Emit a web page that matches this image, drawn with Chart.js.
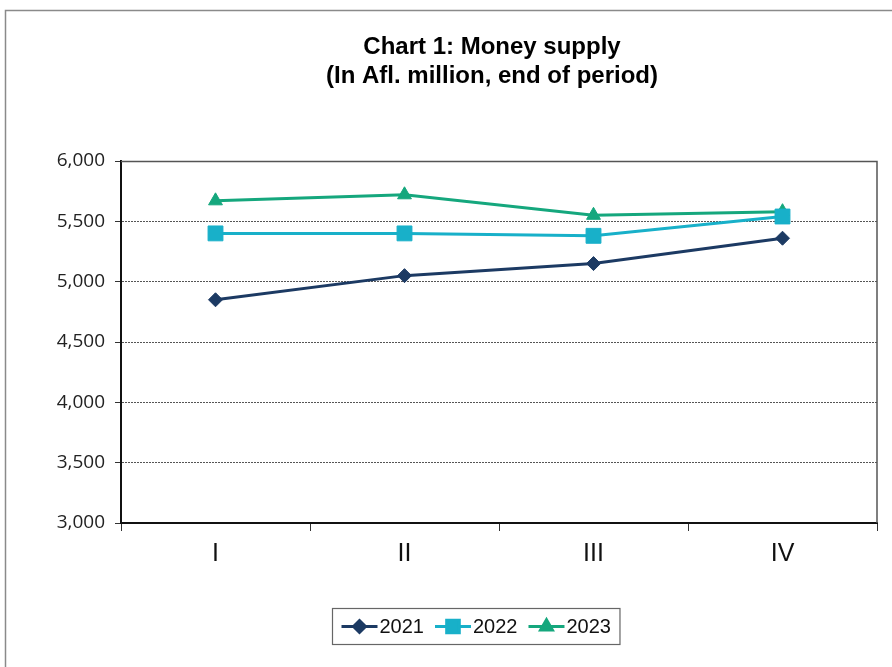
<!DOCTYPE html>
<html>
<head>
<meta charset="utf-8">
<script src="https://cdn.jsdelivr.net/npm/chart.js@4.4.1/dist/chart.umd.min.js"></script>
<style>
  body { margin:0; background:#fff; }
  canvas { display:block; }
</style>
</head>
<body>
<canvas id="moneyChart" width="892" height="667"></canvas>
<script>
// quarters
const quarters = ["I", "II", "III", "IV"]

// money supply, Afl. million
const money2021 = [4850, 5050, 5150, 5360]
const money2022 = [5400, 5400, 5380, 5540]
const money2023 = [5670, 5720, 5550, 5580]

const yMin = 3000
const yMax = 6000
const yStep = 500

const titleLines = ["Chart 1: Money supply", "(In Afl. million, end of period)"]

// outer frame, title and plot box
const framePlugin = {
    id: "frame",
    beforeDraw(chart){
        const ctx = chart.ctx
        ctx.save()
        ctx.strokeStyle = "#8a8a8a"
        ctx.lineWidth = 1.5
        ctx.strokeRect(5.5, 10.5, 1000, 1000)
        // title, centred a bit right like the original
        ctx.fillStyle = "#000"
        ctx.font = "bold 24px 'Liberation Sans Narrow', 'Arial Narrow', Arial"
        ctx.textAlign = "center"
        ctx.textBaseline = "middle"
        titleLines.forEach((t, i) => ctx.fillText(t, 492, 47 + i * 29))
        ctx.restore()
    },
    afterDatasetsDraw(chart){
        const a = chart.chartArea
        const ctx = chart.ctx
        ctx.save()
        ctx.strokeStyle = "#555"
        ctx.lineWidth = 1.5
        ctx.beginPath()
        ctx.moveTo(a.left, a.top + 0.5)
        ctx.lineTo(a.right, a.top + 0.5)
        ctx.lineTo(a.right, a.bottom)
        ctx.stroke()
        ctx.restore()
    }
}

// legend drawn as line + marker like the original
const legendPlugin = {
    id: "lineLegend",
    afterDraw(chart){
        const ctx = chart.ctx
        const sets = chart.data.datasets
        ctx.save()
        ctx.font = "20px Arial, 'Liberation Sans'"
        ctx.textBaseline = "middle"
        const lineLen = 36, gap = 2, itemGap = 11
        let total = 0
        sets.forEach(ds => { total += lineLen + gap + ctx.measureText(ds.label).width })
        total += itemGap * (sets.length - 1)
        const boxW = total + 18, boxH = 36
        const boxX = Math.round(475.5 - boxW / 2) + 0.5
        const boxY = 608.5
        ctx.fillStyle = "#fff"
        ctx.fillRect(boxX, boxY, boxW, boxH)
        ctx.strokeStyle = "#666"
        ctx.lineWidth = 1.2
        ctx.strokeRect(boxX, boxY, boxW, boxH)
        let x = boxX + 9
        const y = boxY + boxH / 2
        sets.forEach(ds => {
            ctx.strokeStyle = ds.borderColor
            ctx.fillStyle = ds.borderColor
            ctx.lineWidth = 3
            ctx.beginPath()
            ctx.moveTo(x, y)
            ctx.lineTo(x + lineLen, y)
            ctx.stroke()
            Chart.helpers.drawPoint(ctx, { pointStyle: ds.pointStyle, radius: ds.pointRadius * 0.85, rotation: 0, borderWidth: 1 }, x + lineLen / 2, y)
            ctx.fillStyle = "#111"
            ctx.fillText(ds.label, x + lineLen + gap, y + 1)
            x += lineLen + gap + ctx.measureText(ds.label).width + itemGap
        })
        ctx.restore()
    }
}

new Chart(document.getElementById("moneyChart"), {
    type: "line",
    data: {
        labels: quarters,
        datasets: [
            { label: "2021", data: money2021, borderColor: "#1c3a63", backgroundColor: "#1c3a63", borderWidth: 3, pointStyle: "rectRot", pointRadius: 7, pointBorderWidth: 1 },
            { label: "2022", data: money2022, borderColor: "#18b0c9", backgroundColor: "#18b0c9", borderWidth: 3, pointStyle: "rect", pointRadius: 10.5, pointBorderWidth: 1 },
            { label: "2023", data: money2023, borderColor: "#15a77d", backgroundColor: "#15a77d", borderWidth: 3, pointStyle: "triangle", pointRadius: 8, pointBorderWidth: 1 }
        ]
    },
    options: {
        responsive: false,
        animation: false,
        layout: { padding: { left: 5, right: 15, top: 161, bottom: 0 } },
        plugins: {
            legend: { display: false },
            tooltip: { enabled: false },
            title: { display: false }
        },
        scales: {
            x: {
                offset: true,
                grid: { display: true, drawOnChartArea: false, drawTicks: true, tickLength: 8, color: "#333", offset: true },
                border: { color: "#111", width: 2 },
                ticks: { color: "#111", font: { family: "Arial, 'Liberation Sans'", size: 25 }, padding: 8 },
                afterFit(s){ s.height = 144 }
            },
            y: {
                min: yMin,
                max: yMax,
                grid: { color: "#555", lineWidth: 1, tickLength: 6, tickColor: "#333" },
                border: { color: "#111", width: 2, dash: [2, 1] },
                ticks: {
                    stepSize: yStep,
                    color: "#222",
                    padding: 10,
                    font: { family: "'Open Sans'", size: 19 },
                    callback: v => v.toLocaleString("en-US")
                },
                afterFit(s){ s.width = 116 }
            }
        }
    },
    plugins: [framePlugin, legendPlugin]
})
</script>
</body>
</html>
